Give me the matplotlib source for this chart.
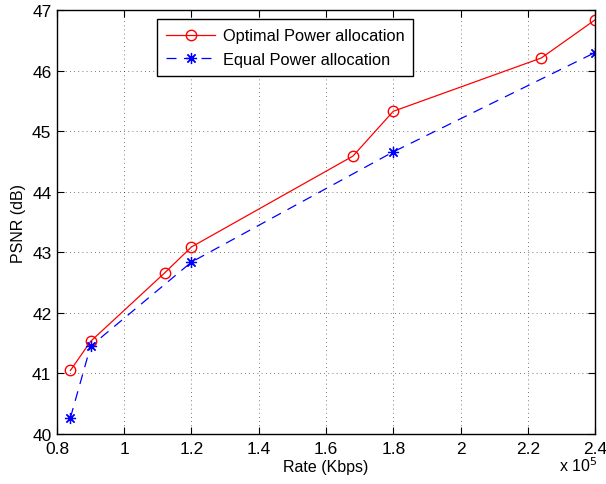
import matplotlib
matplotlib.use("Agg")
import matplotlib.pyplot as plt
from matplotlib.ticker import FuncFormatter

# --- data (rate in Kbps, PSNR in dB) ---#
rateOptimal = [84000, 90000, 112000, 120000, 168000, 180000, 224000, 240000]
psnrOptimal = [41.05, 41.53, 42.66, 43.09, 44.59, 45.33, 46.21, 46.84]

rateEqual = [84000, 90000, 120000, 180000, 240000]
psnrEqual = [40.27, 41.45, 42.84, 44.66, 46.30]

xTicks = [80000, 100000, 120000, 140000, 160000, 180000, 200000, 220000, 240000]
yTicks = [40, 41, 42, 43, 44, 45, 46, 47]

plt.rcParams['font.family'] = ['Liberation Sans', 'DejaVu Sans']

fig = plt.figure(figsize=(6.06, 4.85), dpi=100)
ax = fig.add_axes([0.094, 0.103, 0.888, 0.874])

ax.plot(rateOptimal, psnrOptimal, color='r', marker='o', markersize=7.5,
        markerfacecolor='none', linewidth=0.9, label="Optimal Power allocation")
# asterisk marker like matlab's '*'
ax.plot(rateEqual, psnrEqual, color='b', marker=(8, 2, 0), markersize=8,
        markeredgewidth=0.9, linestyle=(0, (8, 6)), linewidth=0.9,
        label="Equal Power allocation")

ax.set_xlim(80000, 240000)
ax.set_ylim(40, 47)
ax.set_xticks(xTicks)
ax.set_yticks(yTicks)
ax.xaxis.set_major_formatter(FuncFormatter(lambda v, p: f"{v / 1e5:g}"))

ax.tick_params(direction='in', top=True, right=True, length=5, labelsize=12.5)
ax.tick_params(axis='x', pad=5)
ax.tick_params(axis='y', pad=4)
ax.grid(True, color='k', linestyle=(0, (1, 4)), linewidth=0.6, alpha=0.7)
for s in ax.spines.values():
    s.set_linewidth(1.0)

ax.set_xlabel("Rate (Kbps)", fontsize=11.5, labelpad=2)
ax.set_ylabel("PSNR (dB)", fontsize=11.5, labelpad=4)

# MATLAB style exponent at the bottom right
ax.text(0.968, -0.073, r"x 10$^5$", transform=ax.transAxes, fontsize=11.5,
        ha='center', va='center')

leg = ax.legend(loc='upper left', bbox_to_anchor=(0.186, 0.978), fontsize=11.8,
                fancybox=False, framealpha=1, edgecolor='k', borderpad=0.55,
                handlelength=3.0, labelspacing=0.5, handletextpad=0.45,
                borderaxespad=0.0)
leg.get_frame().set_linewidth(1.0)

fig.savefig("out.png", dpi=100)
